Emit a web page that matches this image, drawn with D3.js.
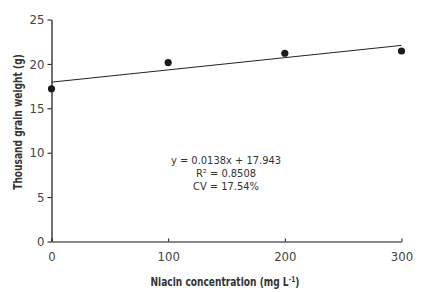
<!DOCTYPE html>
<html>
<head>
  <meta charset="utf-8">
  <script src="https://d3js.org/d3.v7.min.js"></script>
  <style>
    body { margin: 0; background: #fff; }
    text { font-family: "DejaVu Sans Condensed", "Liberation Sans Narrow", "Liberation Sans", sans-serif; font-stretch: condensed; }
  </style>
</head>
<body>
  <svg id="chart"></svg>
  <script>
    // data
    var niacin = [0, 100, 200, 300];
    var weight = [17.2, 20.15, 21.2, 21.45];
    var xTicks = [0, 100, 200, 300];
    var yTicks = [0, 5, 10, 15, 20, 25];
    var slope = 0.0138, intercept = 17.943;
    var eqLines = ["y = 0.0138x + 17.943", "R² = 0.8508", "CV = 17.54%"];

    var width = 421, height = 292;
    var margin = { left: 51.5, right: 20, top: 19.5, bottom: 50 };

    var svg = d3.select("#chart")
      .attr("width", width)
      .attr("height", height);

    var x = d3.scaleLinear().domain([0, 300]).range([margin.left, 401.5]);
    var y = d3.scaleLinear().domain([0, 25]).range([241.5, margin.top]);

    // axes
    var xAxis = svg.append("g")
      .attr("transform", "translate(0," + y(0) + ")")
      .call(d3.axisBottom(x).tickValues(xTicks).tickSizeInner(-3).tickSizeOuter(0).tickPadding(10));
    var yAxis = svg.append("g")
      .attr("transform", "translate(" + x(0) + ",0)")
      .call(d3.axisLeft(y).tickValues(yTicks).tickSize(4).tickSizeOuter(0).tickPadding(3));

    [xAxis, yAxis].forEach(function(g) {
      g.select(".domain").attr("stroke", "#111").attr("stroke-width", 1.2);
      g.selectAll(".tick line").attr("stroke", "#111");
      g.selectAll(".tick text").attr("fill", "#444").style("font-size", "13px");
    });

    // regression line
    var line = d3.line()
      .x(function(d) { return x(d); })
      .y(function(d) { return y(slope * d + intercept); });
    svg.append("path")
      .datum([0, 300])
      .attr("fill", "none")
      .attr("stroke", "#222")
      .attr("stroke-width", 1)
      .attr("d", line);

    // points
    svg.selectAll("circle.pt")
      .data(niacin)
      .enter().append("circle")
      .attr("class", "pt")
      .attr("cx", function(d) { return x(d); })
      .attr("cy", function(d, i) { return y(weight[i]); })
      .attr("r", 3.6)
      .attr("fill", "#1a1a1a");

    // equation text
    svg.selectAll("text.eq")
      .data(eqLines)
      .enter().append("text")
      .attr("class", "eq")
      .attr("x", 226)
      .attr("y", function(d, i) { return 164 + i * 13; })
      .attr("text-anchor", "middle")
      .attr("fill", "#333")
      .style("font-size", "11px")
      .text(function(d) { return d; });

    // axis titles (squeezed to look like the narrow bold face)
    var xt = svg.append("text")
      .attr("transform", "translate(225,286) scale(0.84,1)")
      .attr("text-anchor", "middle")
      .attr("fill", "#333")
      .style("font-size", "12px")
      .style("font-weight", "bold");
    xt.append("tspan").text("Niacin concentration (mg L");
    xt.append("tspan").attr("dy", -4).style("font-size", "8px").text("-1");
    xt.append("tspan").attr("dy", 4).text(")");

    svg.append("text")
      .attr("transform", "translate(22,122) rotate(-90) scale(0.84,1)")
      .attr("text-anchor", "middle")
      .attr("fill", "#333")
      .style("font-size", "12px")
      .style("font-weight", "bold")
      .text("Thousand grain weight (g)");
  </script>
</body>
</html>
